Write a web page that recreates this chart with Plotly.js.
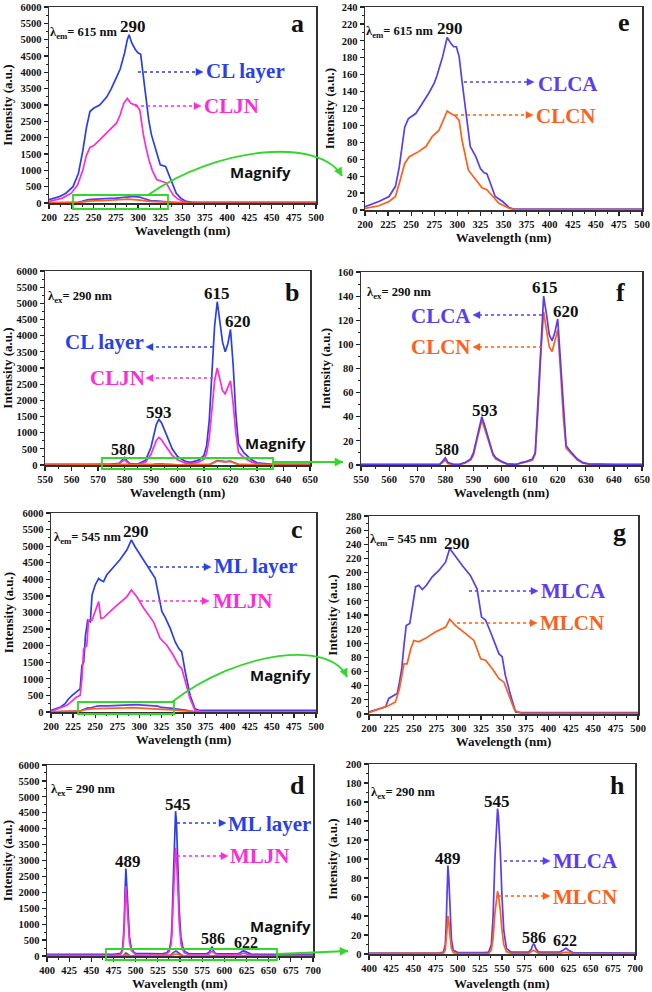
<!DOCTYPE html>
<html><head><meta charset="utf-8">
<script src="https://cdn.plot.ly/plotly-3.0.1.min.js"></script>
<style>html,body{margin:0;padding:0;background:#fff;}#chart{width:652px;height:992px;}</style>
</head><body><div id="chart"></div>
<script>
// ---------- DATA ----------
// (a) excitation, em 615 nm
const excCL_x_layer = [200,212,219,227,233,238,242,246,250,257,265,270,275,280,285,288,290,293,297,300,303,306,309,312,315,320,325,331,336,340,343,348,354,360,370,400,450,500];
const excCL_y_layer = [100,200,300,500,900,1600,2300,2800,2900,3000,3250,3500,3800,4100,4600,5000,5150,4900,4700,4600,4550,3850,3150,2550,2100,1650,1170,1120,800,500,300,150,50,25,20,20,20,20];
const excCL_x_JN = [200,215,225,232,238,242,246,250,257,265,270,276,280,284,288,292,295,298,302,306,309,312,316,321,325,328,332,336,340,345,350,355,360,400,500];
const excCL_y_JN = [50,150,300,550,1000,1450,1700,1750,1930,2150,2300,2450,2700,3050,3200,3050,3020,3000,2850,2100,1700,1350,1000,720,680,660,610,400,230,120,60,30,15,10,10];
// (e)
const excCL_x_CA = [200,215,226,233,237,240,243,247,255,262,269,275,278,284,288,289,293,296,299,302,305,309,314,320,325,329,332,336,341,349,356,361,370,400,500];
const excCL_y_CA = [4,10,16,28,50,75,98,108,114,126,138,150,159,181,201,204,197,193,193,181,153,118,75,63,49,44,43,31,16,10,3,1,1,1,1];
const excCL_x_CN = [200,215,226,233,238,243,248,258,266,273,280,285,289,293,298,302,305,312,320,327,332,338,345,356,362,370,400,500];
const excCL_y_CN = [2,5,10,16,35,55,63,69,75,87,94,108,117,114,111,106,83,47,35,26,24,16,8,2,0.5,0.5,0.5,0.5];
// (b) emission, ex 290 nm
const emCL_x = [550,560,570,575,578,579,580,581,582,585,588,590,591,592,593,594,595,596,598,600,603,605,608,610,611,612,613,614,615,616,617,618,619,620,621,622,623,625,628,630,635,640,650];
const emCL_y_layer = [20,20,20,25,50,150,230,120,40,30,150,550,900,1250,1410,1300,1100,900,500,260,110,80,150,300,600,1400,3000,4300,5050,4400,3800,3500,3750,4190,3100,1600,650,380,160,70,30,20,20];
const emCL_y_JN = [10,10,10,15,40,110,170,90,30,20,90,330,550,760,850,780,650,530,300,160,60,45,90,180,360,850,1800,2600,3000,2650,2300,2200,2400,2600,1900,1000,400,230,90,40,15,10,10];
// (f)
const emCLs_x = [550,560,570,576,578,579,580,581,583,585,587,589,590,591,592,593,594,595,596,597,598,600,602,605,606,607,609,611,612,613,614,615,616,617,618,619,620,621,622,623,625,627,629,631,640,650];
const emCLs_y_CA = [0.5,0.5,0.5,0.5,0.5,3,6,2,0.5,0.5,2,5,10,20,30,40,33,25,17,9,6,3,1,0.5,1,2,3,5,10,50,100,140,125,108,103,110,121,85,45,16,10,5,2,1,0.5,0.5];
const emCLs_y_CN = [0.3,0.3,0.3,0.3,0.3,2,4,1,0.3,0.3,1.5,4,8,18,27,37,30,23,15,8,5,2.5,0.8,0.3,0.8,1.5,2.5,4,9,45,92,127,112,98,94,103,112,78,40,14,9,4,1.5,0.8,0.3,0.3];
// (c) excitation, em 545 nm
const excML_x_layer = [200,211,216,220,224,229,233,235,237,239,241.5,244.5,246.5,250,254,256,259.5,263,271,278,286,291,295,301,308.5,318,325.5,329,335,340.5,344.5,348,352,357.5,363,367,400,500];
const excML_y_layer = [50,150,250,400,500,600,700,1400,1500,2300,2770,2720,3530,3830,4030,3980,3930,4130,4390,4590,4890,5190,4990,4740,4440,4030,3030,2870,2520,2120,1920,1810,1210,500,100,50,50,50];
const excML_x_JN = [200,218,229,233,235,237,240.5,242.5,246.5,250,254,256.5,259.5,271,278,286,291,297,305,316,323.5,331,338.5,344.5,348,352,357.5,363,370,500];
const excML_y_JN = [20,200,450,500,1000,1900,2000,2770,2770,3030,3330,2820,2840,3130,3280,3480,3680,3480,3130,2720,2220,2020,1710,1410,1310,910,400,50,10,10];
// (g)
const excML_x_CA = [200,211,218.5,222,231.5,234,236.5,239,241.5,245.5,248.5,252,255.5,259.5,264,270.5,278,285.5,290,296.5,304,313,320.5,325.5,330,335.5,341,345,348.5,352,358,363.5,370,500];
const excML_y_CA = [3,7.5,10,22,29,45,64,97,125,128,154,180,182,176,182,194,203,215,234,222,210,196,177,137,133,116,97,85,81,55,26,3,2,2];
const excML_x_CN = [200,222,229.5,234,239,242.5,246.5,250,255.5,263,274,285.5,290,296.5,307.5,317,324.5,330,337.5,345,350.5,356,362.5,370,500];
const excML_y_CN = [2,12,17,36,71,71,92,104,102,107,116,123,134,125,114,104,78,76,64,50,45,26,5,1,1];
// (d) emission, ex 290 nm
const emML_x = [400,450,475,483,485,486,487,488,489,490,491,492,493,495,498,500,520,530,535,538,540,541,542,543,544,545,546,547,548,549,550,551,553,555,560,570,580,583,584,585,586,587,588,590,592,600,615,618,620,622,624,626,630,640,700];
const emML_y_layer = [50,50,55,80,200,500,1000,2000,2750,2200,1500,900,600,250,120,80,70,70,100,200,500,1000,2000,3000,4000,4550,4200,3500,2500,1500,900,600,300,150,70,60,70,120,200,260,290,240,150,80,70,65,70,100,150,160,140,100,60,50,50];
const emML_y_JN = [20,20,22,50,150,400,800,1600,2200,1750,1200,700,450,180,80,40,30,30,60,150,380,750,1500,2250,3000,3400,3100,2600,1850,1100,650,400,200,100,40,25,30,70,120,140,150,130,90,45,30,25,30,50,80,90,75,50,30,20,20];
// (h)
const emMLs_x = [400,450,480,484,486,487,488,489,490,491,492,493,495,500,530,535,538,540,542,544,545,546,548,550,552,555,560,580,583,584,585,586,587,588,591,615,619,621,622,623,625,630,700];
const emMLs_y_CA = [1,1,1.2,2,10,30,60,93,80,50,30,15,4,1.5,1.5,2,10,40,100,145,153,145,110,60,25,6,2,2,5,8,10,11,9,6,2,2,4,5.5,6,5.5,4,1.5,1];
const emMLs_y_CN = [0.3,0.3,0.4,1,4,13,26,40,35,22,13,6,1.5,0.5,0.5,0.8,4,17,43,63,66,62,47,25,10,2.5,0.7,0.7,2,3,3.8,4,3.5,2.5,0.8,0.8,1.5,2,2.2,2,1.5,0.5,0.3];

// ---------- STYLE / LAYOUT ----------
const W = 652, H = 992;
const SERIF = '"Liberation Serif", "Times New Roman", serif';
const SANS = '"Open Sans", "Liberation Sans", sans-serif';
const BLUE = '#2b3fe8', MAG = '#ff2bd6', VIO = '#5a3cf2', ORG = '#ff5f1a', GREEN = '#33d62a';
const px = v => v / W, py = v => 1 - v / H;
const XTITLE = 'Wavelength (nm)', YTITLE = 'Intensity (a.u.)';

const panels = [
  {n:1, l:49,  r:316, t:7,   b:203, xr:[200,500], xd:25, xm:12.5, yr:[0,6000], yd:500, ym:250, st:6},
  {n:2, l:365, r:642, t:7,   b:210, xr:[200,500], xd:25, xm:12.5, yr:[0,240],  yd:20,  ym:10,  st:4},
  {n:3, l:45,  r:310, t:271, b:465, xr:[550,650], xd:10, xm:5,    yr:[0,6000], yd:500, ym:250, st:4},
  {n:4, l:361, r:642, t:272, b:465, xr:[550,650], xd:10, xm:5,    yr:[0,160],  yd:20,  ym:10,  st:4},
  {n:5, l:51,  r:316, t:513, b:712, xr:[200,500], xd:25, xm:12.5, yr:[0,6000], yd:500, ym:250, st:6},
  {n:6, l:369, r:638, t:516, b:714, xr:[200,500], xd:25, xm:12.5, yr:[0,280],  yd:20,  ym:10,  st:5},
  {n:7, l:47,  r:313, t:765, b:956, xr:[400,700], xd:25, xm:12.5, yr:[0,6000], yd:500, ym:250, st:4, xtAnn:true},
  {n:8, l:369, r:635, t:764, b:954, xr:[400,700], xd:25, xm:12.5, yr:[0,200],  yd:20,  ym:10,  st:5, xtAnn:true}
];

const layout = {
  width: W, height: H, margin:{l:0,r:0,t:0,b:0},
  paper_bgcolor:'#fff', plot_bgcolor:'#fff', showlegend:false,
  shapes: [], annotations: []
};
const tickFont = {family:SERIF, size:10.5, weight:'bold', color:'#111'};
const titleFont = {family:SERIF, size:13, weight:'bold', color:'#111'};
panels.forEach(p => {
  const sx = p.n === 1 ? '' : p.n;
  const common = {
    showline:true, mirror:true, linecolor:'#333', linewidth:1.5,
    ticks:'outside', ticklen:4, tickwidth:1.2, tickcolor:'#222',
    showgrid:false, zeroline:false, automargin:false, fixedrange:true,
    tickfont: tickFont
  };
  layout['xaxis'+sx] = Object.assign({}, common, {
    domain:[px(p.l), px(p.r)], anchor:'y'+sx, range:p.xr, tick0:p.xr[0], dtick:p.xd,
    minor:{ticks:'outside', ticklen:2, tickwidth:1, tickcolor:'#222', dtick:p.xm, tick0:p.xr[0], showgrid:false},
    title:{text: p.xtAnn ? '' : XTITLE, font:titleFont, standoff:3}
  });
  layout['yaxis'+sx] = Object.assign({}, common, {
    domain:[py(p.b), py(p.t)], anchor:'x'+sx, range:p.yr, tick0:0, dtick:p.yd,
    minor:{ticks:'outside', ticklen:2, tickwidth:1, tickcolor:'#222', dtick:p.ym, tick0:0, showgrid:false},
    title:{text:YTITLE, font:titleFont, standoff:p.st}
  });
  if (p.xtAnn) {
    layout.annotations.push({xref:'paper', yref:'paper', x:px((p.l + p.r) / 2), y:0,
      text:XTITLE, showarrow:false, xanchor:'center', yanchor:'bottom', borderpad:0, font:titleFont});
  }
});

// ---------- TRACES ----------
const traces = [];
function tr(x, y, color, n, w) {
  const sx = n === 1 ? '' : n;
  traces.push({type:'scatter', mode:'lines', x:x, y:y, xaxis:'x'+sx, yaxis:'y'+sx,
    line:{color:color, width:w || 1.7}, hoverinfo:'skip', showlegend:false});
}
// a
tr(excCL_x_layer, excCL_y_layer, BLUE, 1);
tr(excCL_x_JN, excCL_y_JN, MAG, 1);
tr(excCL_x_CA, excCL_y_CA, VIO, 1);
tr(excCL_x_CN, excCL_y_CN, ORG, 1);
// e
tr(excCL_x_CA, excCL_y_CA, VIO, 2);
tr(excCL_x_CN, excCL_y_CN, ORG, 2);
// b
tr(emCL_x, emCL_y_layer, BLUE, 3);
tr(emCL_x, emCL_y_JN, MAG, 3);
tr(emCLs_x, emCLs_y_CA, VIO, 3);
tr(emCLs_x, emCLs_y_CN, ORG, 3);
// f
tr(emCLs_x, emCLs_y_CN, ORG, 4);
tr(emCLs_x, emCLs_y_CA, VIO, 4);
// c
tr(excML_x_layer, excML_y_layer, BLUE, 5);
tr(excML_x_JN, excML_y_JN, MAG, 5);
tr(excML_x_CA, excML_y_CA, VIO, 5);
tr(excML_x_CN, excML_y_CN, ORG, 5);
// g
tr(excML_x_CA, excML_y_CA, VIO, 6);
tr(excML_x_CN, excML_y_CN, ORG, 6);
// d
tr(emML_x, emML_y_layer, BLUE, 7);
tr(emML_x, emML_y_JN, MAG, 7);
tr(emMLs_x, emMLs_y_CA, VIO, 7);
tr(emMLs_x, emMLs_y_CN, ORG, 7);
// h
tr(emMLs_x, emMLs_y_CA, VIO, 8);
tr(emMLs_x, emMLs_y_CN, ORG, 8);

// ---------- DECORATION ----------
function txt(x, y, text, size, color, xa, fam) {
  layout.annotations.push({xref:'paper', yref:'paper', x:px(x), y:py(y), text:text, showarrow:false,
    xanchor:xa || 'center', yanchor:'middle', font:{family:fam || SERIF, size:size, color:color || '#111', weight:'bold'}});
}
// filled triangular arrowhead (pixel tip, pixel direction)
function head(x, y, dx, dy, color, L, hw) {
  const n = Math.hypot(dx, dy), ux = dx / n, uy = dy / n;
  const bx = x - ux * L, by = y - uy * L;
  const p1 = [bx - uy * hw, by + ux * hw], p2 = [bx + uy * hw, by - ux * hw];
  const f = p => px(p[0]).toFixed(5) + ',' + py(p[1]).toFixed(5);
  layout.shapes.push({type:'path', xref:'paper', yref:'paper',
    path:'M' + f([x, y]) + ' L' + f(p1) + ' L' + f(p2) + ' Z', fillcolor:color, line:{color:color, width:0.5}});
}
function darrow(x0, x1, y, color) {
  const d = x1 > x0 ? 1 : -1;
  layout.shapes.push({type:'line', xref:'paper', yref:'paper', x0:px(x0), x1:px(x1 - d * 4), y0:py(y), y1:py(y),
    line:{color:color, width:1.6, dash:'dot'}});
  head(x1, y, d, 0, color, 7, 3.5);
}
function grect(x0, y0, x1, y1) {
  layout.shapes.push({type:'rect', xref:'paper', yref:'paper', x0:px(x0), x1:px(x1), y0:py(y0), y1:py(y1),
    line:{color:GREEN, width:1.8}});
}
function gcurve(p0, c1, c2, p1) {
  const f = p => px(p[0]).toFixed(5) + ',' + py(p[1]).toFixed(5);
  layout.shapes.push({type:'path', xref:'paper', yref:'paper',
    path:'M' + f(p0) + ' C' + f(c1) + ' ' + f(c2) + ' ' + f(p1), line:{color:GREEN, width:1.8}});
  head(p1[0], p1[1], p1[0] - c2[0], p1[1] - c2[1], GREEN, 8, 4);
}
function gline(p0, p1) {
  layout.shapes.push({type:'line', xref:'paper', yref:'paper', x0:px(p0[0]), y0:py(p0[1]), x1:px(p1[0]), y1:py(p1[1]),
    line:{color:GREEN, width:1.8}});
  head(p1[0], p1[1], p1[0] - p0[0], p1[1] - p0[1], GREEN, 8, 4);
}

// panel letters
[['a',297,24],['e',624,22],['b',292,292],['f',620,292],['c',297,529],['g',619,532],['d',297,785],['h',617,785]]
  .forEach(d => txt(d[1], d[2], d[0], 26, '#111'));
// lambda labels
const LF = 12.5;
txt(48, 33, 'λ<sub>em</sub>= 615 nm', LF, '#111', 'left');
txt(364, 32, 'λ<sub>em</sub>= 615 nm', LF, '#111', 'left');
txt(46, 297, 'λ<sub>ex</sub>= 290 nm', LF, '#111', 'left');
txt(365, 293, 'λ<sub>ex</sub>= 290 nm', LF, '#111', 'left');
txt(52, 538, 'λ<sub>em</sub>= 545 nm', LF, '#111', 'left');
txt(368, 540, 'λ<sub>em</sub>= 545 nm', LF, '#111', 'left');
txt(49, 790, 'λ<sub>ex</sub>= 290 nm', LF, '#111', 'left');
txt(369, 793, 'λ<sub>ex</sub>= 290 nm', LF, '#111', 'left');
// peak labels
const PF = 17, PS = 16;
txt(133, 26, '290', PF); txt(450, 29, '290', PF);
txt(217, 293, '615', PF); txt(238, 321, '620', PF); txt(159, 413, '593', PF); txt(123, 449, '580', PS);
txt(545, 288, '615', PF); txt(566, 312, '620', PF); txt(485, 410, '593', PF); txt(447, 449, '580', PS);
txt(136, 531, '290', PF); txt(457, 543, '290', PF);
txt(178, 804, '545', PF); txt(128, 861, '489', PF); txt(213, 938, '586', PS); txt(246, 942, '622', PS);
txt(497, 801, '545', PF); txt(448, 858, '489', PF); txt(534, 937, '586', PS); txt(565, 940, '622', PS);
// series labels + dotted arrows
const SF = 21;
txt(204, 71, 'CL layer', SF, BLUE, 'left'); darrow(138, 203, 72, BLUE);
txt(202, 106, 'CLJN', SF, MAG, 'left'); darrow(135, 201, 106, MAG);
txt(536, 84, 'CLCA', SF, VIO, 'left'); darrow(464, 534, 82, VIO);
txt(534, 116, 'CLCN', SF, ORG, 'left'); darrow(455, 533, 115, ORG);
txt(63, 342, 'CL layer', SF, BLUE, 'left'); darrow(213, 146, 347, BLUE);
txt(88, 378, 'CLJN', SF, MAG, 'left'); darrow(213, 146, 378, MAG);
txt(409, 316, 'CLCA', SF, VIO, 'left'); darrow(542, 473, 315, VIO);
txt(409, 347, 'CLCN', SF, ORG, 'left'); darrow(542, 473, 347, ORG);
txt(212, 566, 'ML layer', SF, BLUE, 'left'); darrow(148, 211, 567, BLUE);
txt(211, 601, 'MLJN', SF, MAG, 'left'); darrow(140, 209, 601, MAG);
txt(539, 591, 'MLCA', SF, VIO, 'left'); darrow(469, 538, 591, VIO);
txt(538, 623, 'MLCN', SF, ORG, 'left'); darrow(457, 537, 623, ORG);
txt(226, 824, 'ML layer', SF, BLUE, 'left'); darrow(177, 226, 823, BLUE);
txt(228, 856, 'MLJN', SF, MAG, 'left'); darrow(177, 228, 856, MAG);
txt(551, 861, 'MLCA', SF, VIO, 'left'); darrow(504, 550, 861, VIO);
txt(551, 897, 'MLCN', SF, ORG, 'left'); darrow(499, 550, 896, ORG);
// magnify
txt(260, 172, 'Magnify', 15, '#111', 'center', SANS);
txt(275, 443, 'Magnify', 15, '#111', 'center', SANS);
txt(280, 675, 'Magnify', 15, '#111', 'center', SANS);
txt(280, 926, 'Magnify', 15, '#111', 'center', SANS);
grect(73, 195, 168, 209);
grect(102, 458, 273, 469);
grect(78, 702, 174, 714);
grect(106, 949, 277, 960);
gcurve([148,195],[220,145],[320,138],[342,176]);
gline([273,462],[343,462]);
gcurve([172,702],[240,650],[330,640],[347,677]);
gline([277,954],[348,951]);

Plotly.newPlot('chart', traces, layout, {staticPlot:true, displayModeBar:false});
</script></body></html>
